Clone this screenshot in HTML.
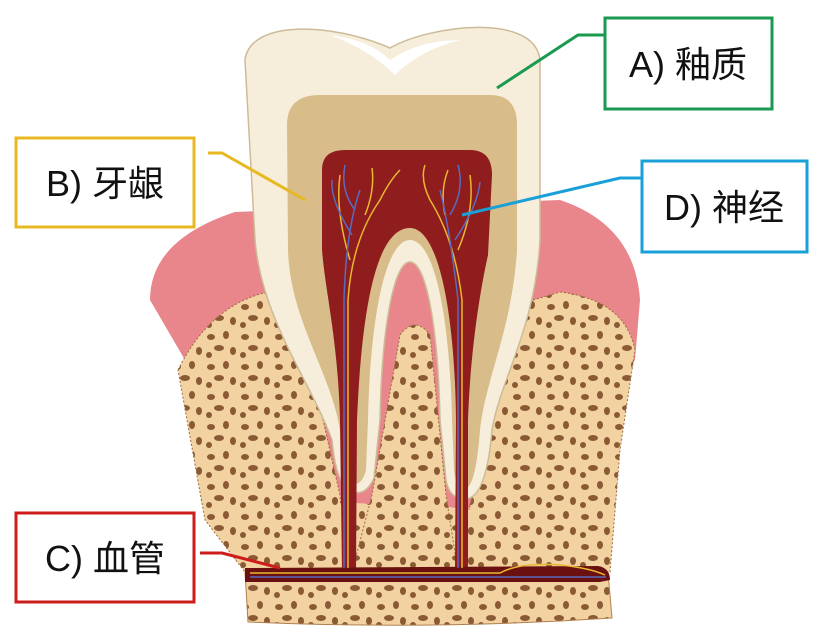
<!DOCTYPE html>
<html><head><meta charset="utf-8"><style>
body{margin:0;background:#fff;}
svg{display:block}
text{font-family:"Liberation Sans","Noto Sans CJK SC",sans-serif;font-size:36px;fill:#111}
</style></head><body>
<svg width="825" height="643" viewBox="0 0 825 643">
<defs>
<pattern id="holes" width="34" height="30" patternUnits="userSpaceOnUse">
<rect width="34" height="30" fill="#f2d2a0"/>
<ellipse cx="7" cy="7" rx="4" ry="3" fill="#8a5a34"/>
<ellipse cx="22" cy="5" rx="3" ry="4" fill="#8a5a34"/>
<ellipse cx="15" cy="18" rx="5" ry="3" fill="#8a5a34"/>
<ellipse cx="29" cy="21" rx="3" ry="4" fill="#8a5a34"/>
<ellipse cx="5" cy="25" rx="3" ry="3" fill="#8a5a34"/>
</pattern>
</defs>
<!-- gum -->
<path d="M150,300 Q150,240 235,212 L560,200 Q635,225 640,300 L635,360 L520,520 L300,520 L185,360 Z" fill="#e9868c"/>
<!-- bottom strip -->
<path d="M245,572 L608,572 L612,618 Q430,630 248,622 Z" fill="url(#holes)" stroke="#b08050"/>
<!-- bones -->
<path d="M178,370 Q210,305 268,292 L298,300 Q318,400 340,495 L345,572 L245,572 L205,520 Z" fill="url(#holes)" stroke="#9c6a40" stroke-dasharray="2 2"/>
<path d="M470,505 Q492,420 500,310 L560,292 Q625,300 635,350 L620,450 L610,572 L465,572 Z" fill="url(#holes)" stroke="#9c6a40" stroke-dasharray="2 2"/>
<path d="M330,508 Q350,500 375,505 L440,505 Q470,512 490,508 L490,572 L330,572 Z" fill="url(#holes)"/>
<path d="M400,335 Q415,315 430,335 L446,495 L458,572 L352,572 L372,495 Z" fill="url(#holes)" stroke="#9c6a40" stroke-dasharray="2 2"/>
<!-- tooth outer -->
<path d="M245,60 C250,20 330,22 390,48 C430,25 535,12 540,60 L540,240 C535,330 500,380 492,430 Q487,490 470,498 Q450,502 446,480 L440,420 C438,320 425,262 410,262 C395,262 382,320 380,420 L374,478 Q366,496 352,492 Q336,486 332,440 C310,380 262,320 255,240 Z" fill="#f6eedb" stroke="#cdbb98" stroke-width="1.5"/>
<path d="M330,35 Q370,40 390,60 Q420,40 460,40 Q420,50 395,75 Q370,50 330,35Z" fill="#fff"/>
<!-- dentin -->
<path d="M287,125 Q287,95 320,95 L490,95 Q517,95 517,125 L517,250 C512,330 485,380 480,430 Q476,482 467,488 Q456,490 454,470 L452,420 C450,320 435,240 410,240 C385,240 370,320 368,420 L366,470 Q362,486 352,484 Q342,478 340,430 C330,370 290,320 288,250 Z" fill="#d8bd8a"/>
<!-- pulp -->
<path d="M322,170 Q322,150 345,150 L470,150 Q492,150 492,175 L488,255 C478,300 470,360 468,420 L468,572 L455,572 L456,420 C455,320 440,228 410,228 C378,228 362,300 357,420 L356,572 L342,572 L340,420 C338,340 325,290 322,250 Z" fill="#8f1d1d"/>
<!-- vessel band -->
<path d="M245,568 L598,566 Q610,568 610,580 L600,582 L245,582 Z" fill="#6a1010"/>
<!-- nerves -->
<g fill="none" stroke-width="1.5">
<path d="M348,568 L348,300 Q352,240 380,200 M350,260 Q335,210 340,175 M380,200 Q390,180 400,170 M365,215 Q375,190 372,168" stroke="#e8b830"/>
<path d="M344,568 L344,300 Q346,230 360,190 M355,210 Q340,190 345,165 M352,235 Q330,200 332,180" stroke="#5a6bc0"/>
<path d="M462,568 L462,300 Q455,240 430,200 M458,250 Q475,210 470,175 M430,200 Q420,180 425,165 M445,215 Q440,190 448,170" stroke="#e8b830"/>
<path d="M458,568 L458,300 Q450,230 440,190 M450,215 Q465,190 458,165 M455,240 Q478,205 480,182" stroke="#5a6bc0"/>
<path d="M250,573 L500,573 Q520,562 560,565 Q590,568 605,575" stroke="#e8b830"/>
<path d="M250,577 L606,577" stroke="#5a6bc0"/>
</g>
<!-- leader lines -->
<g fill="none" stroke-width="3">
<path d="M497,88 L578,35 L604,35" stroke="#1a9a50"/>
<path d="M208,153 L222,153 L305,200" stroke="#e8b820"/>
<path d="M462,215 L620,178 L641,178" stroke="#1aa0d8"/>
<path d="M200,553 L222,553 L280,568" stroke="#cc1c1c"/>
</g>
<!-- boxes -->
<rect x="605" y="18" width="167" height="91" fill="#fff" stroke="#1a9a50" stroke-width="3"/>
<text x="688" y="77" text-anchor="middle">A) 釉质</text>
<rect x="16" y="138" width="178" height="89" fill="#fff" stroke="#e8b820" stroke-width="3"/>
<text x="105" y="196" text-anchor="middle">B) 牙龈</text>
<rect x="642" y="161" width="165" height="91" fill="#fff" stroke="#1aa0d8" stroke-width="3"/>
<text x="724" y="220" text-anchor="middle">D) 神经</text>
<rect x="16" y="513" width="178" height="89" fill="#fff" stroke="#cc1c1c" stroke-width="3"/>
<text x="105" y="571" text-anchor="middle">C) 血管</text>
</svg>
</body></html>
